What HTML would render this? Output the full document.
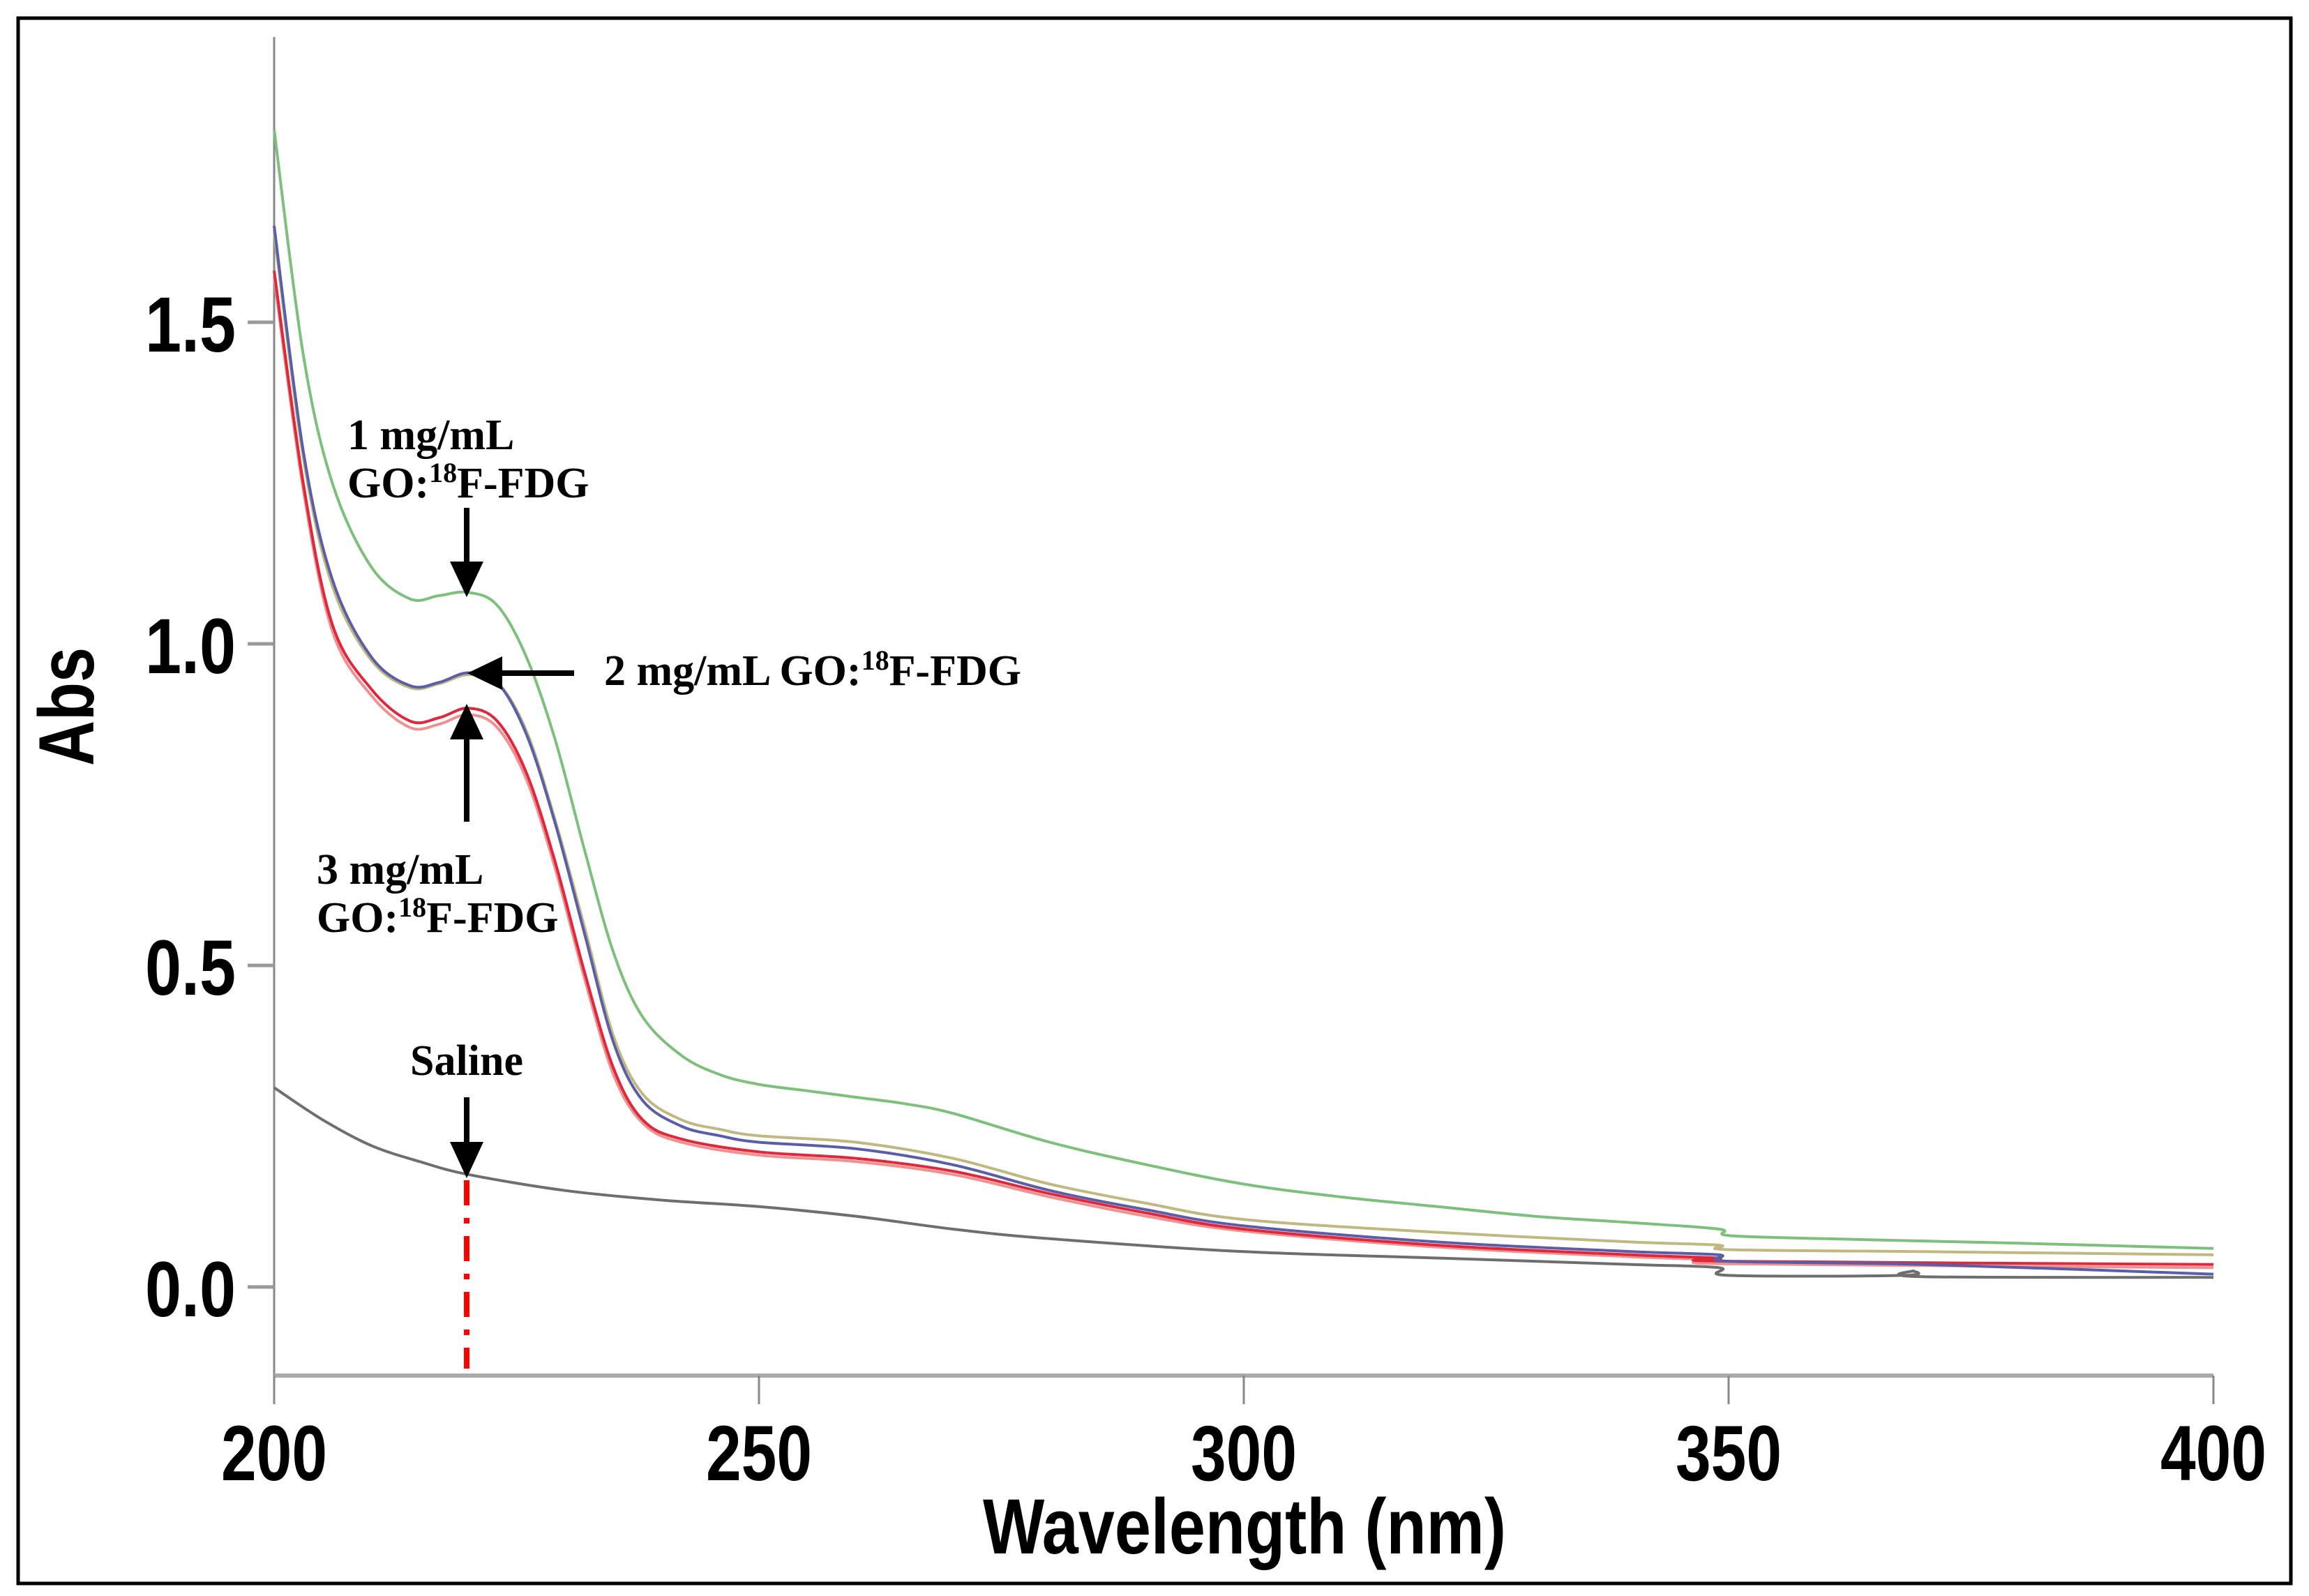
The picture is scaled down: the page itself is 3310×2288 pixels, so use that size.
<!DOCTYPE html>
<html><head><meta charset="utf-8"><style>
html,body{margin:0;padding:0;background:#fff}
svg{display:block}
.tk{font-family:"Liberation Sans",sans-serif;font-weight:bold;font-size:112px;fill:#000}
.ann{font-family:"Liberation Serif",serif;font-weight:bold;font-size:62px;fill:#000}
</style></head><body>
<svg id="chart" width="3310" height="2288" viewBox="0 0 3310 2288" xmlns="http://www.w3.org/2000/svg">
<rect x="26" y="26" width="3258" height="2244" fill="#fff" stroke="#000" stroke-width="5"/>
<g id="axes"></g>
<g id="series"></g>
<g id="annotations">
<text class="ann" x="498" y="644">1 mg/mL</text>
<text class="ann" x="498" y="713">GO:<tspan font-size="40" dy="-22">18</tspan><tspan dy="22">F-FDG</tspan></text>
<text class="ann" x="866" y="982">2 mg/mL GO:<tspan font-size="40" dy="-22">18</tspan><tspan dy="22">F-FDG</tspan></text>
<text class="ann" x="454" y="1267">3 mg/mL</text>
<text class="ann" x="454" y="1336">GO:<tspan font-size="40" dy="-22">18</tspan><tspan dy="22">F-FDG</tspan></text>
<text class="ann" x="669" y="1541" text-anchor="middle">Saline</text>
<g><line x1="669" y1="728" x2="669" y2="810" stroke="#000" stroke-width="8"/><polygon points="645,805 693,805 669,856" fill="#000"/></g>
<g><line x1="823" y1="965" x2="715" y2="965" stroke="#000" stroke-width="8"/><polygon points="720,941 720,989 670,965" fill="#000"/></g>
<g><line x1="669" y1="1178" x2="669" y2="1055" stroke="#000" stroke-width="8"/><polygon points="645,1060 693,1060 669,1009" fill="#000"/></g>
<g><line x1="669" y1="1573" x2="669" y2="1640" stroke="#000" stroke-width="8"/><polygon points="645,1637 693,1637 669,1689" fill="#000"/></g>
<line x1="669" y1="1692" x2="669" y2="1962" stroke="#f00" stroke-width="8" stroke-dasharray="36,18,8,18"/>
</g>
<text class="tk" x="1784" y="2227" text-anchor="middle" font-size="100" textLength="750" lengthAdjust="spacingAndGlyphs">Wavelength (nm)</text>
<text class="tk" transform="translate(134,1013) rotate(-90)" text-anchor="middle" font-size="100" textLength="170" lengthAdjust="spacingAndGlyphs">Abs</text>
</svg>
<script>
const xTicks=[200,250,300,350,400];
const yTicks=[0.0,0.5,1.0,1.5];
const yTickLabels=["0.0","0.5","1.0","1.5"];
const wl1=[200,203,206,210,214,217,220,223,226,229,232,235,238,242,246,250,255,260,265,270,280,290,300,310,320,330,340,349,350,360,380,400];
const abs1=[1.80,1.45,1.25,1.12,1.07,1.075,1.08,1.06,0.98,0.85,0.68,0.52,0.42,0.36,0.33,0.315,0.305,0.295,0.285,0.27,0.225,0.19,0.16,0.14,0.125,0.11,0.10,0.09,0.08,0.075,0.068,0.06];
const wl2=[200,203,206,210,214,217,220,223,226,229,232,235,238,242,246,250,260,270,280,290,300,320,340,349,350,370,400];
const abs2a=[1.65,1.30,1.10,0.98,0.935,0.94,0.955,0.94,0.86,0.72,0.55,0.38,0.29,0.25,0.235,0.225,0.215,0.19,0.15,0.12,0.095,0.07,0.055,0.05,0.04,0.035,0.02];
const abs2b=[1.64,1.29,1.09,0.975,0.932,0.938,0.952,0.94,0.865,0.725,0.56,0.39,0.30,0.26,0.245,0.235,0.225,0.20,0.16,0.13,0.105,0.085,0.07,0.065,0.058,0.055,0.05];
const wl3=[200,203,206,210,214,217,220,223,226,229,232,235,238,242,250,260,270,280,290,300,320,340,349,350,400];
const abs3a=[1.58,1.25,1.03,0.93,0.88,0.885,0.90,0.88,0.80,0.66,0.49,0.34,0.26,0.23,0.21,0.20,0.18,0.145,0.115,0.09,0.065,0.05,0.045,0.04,0.035];
const abs3b=[1.57,1.24,1.02,0.92,0.87,0.875,0.89,0.87,0.79,0.65,0.48,0.33,0.255,0.225,0.205,0.195,0.175,0.14,0.11,0.087,0.062,0.047,0.042,0.036,0.03];
const wlS=[200,205,210,215,220,230,240,250,260,270,280,300,320,340,349,350,368,369,370,400];
const absS=[0.31,0.26,0.22,0.195,0.175,0.15,0.135,0.125,0.11,0.09,0.075,0.055,0.045,0.035,0.03,0.018,0.018,0.025,0.016,0.015];

const NS="http://www.w3.org/2000/svg";
const X0=393,X1=3173,Y0=1845,YPER=922;
function xs(w){return X0+(w-200)/200*(X1-X0);}
function ys(a){return Y0-a*YPER;}
const axes=document.getElementById('axes');
function mk(tag,attrs,parent){const e=document.createElementNS(NS,tag);for(const k in attrs)e.setAttribute(k,attrs[k]);parent.appendChild(e);return e;}
let yl=mk('line',{x1:X0,y1:53,x2:X0,y2:1972,stroke:'#888','stroke-width':3},axes);


let xl=mk('line',{x1:X0,y1:1972,x2:X1,y2:1972,stroke:'#aaa','stroke-width':6},axes);


xTicks.forEach(function(t){
  const px=xs(t);
  const l=mk('line',{x1:px,y1:1972,x2:px,y2:2013,stroke:'#888','stroke-width':3},axes);
  
  
  const tx=mk('text',{x:px,y:2122,'text-anchor':'middle','class':'tk',textLength:152,lengthAdjust:'spacingAndGlyphs'},axes);
  tx.textContent=String(t);
  
  
});
yTicks.forEach(function(t,i){
  const py=ys(t);
  const l=mk('line',{x1:X0-38,y1:py,x2:X0,y2:py,stroke:'#999','stroke-width':5},axes);
  
  
  const tx=mk('text',{x:338,y:py+42,'text-anchor':'end','class':'tk',textLength:130,lengthAdjust:'spacingAndGlyphs'},axes);
  tx.textContent=yTickLabels[i];
  
  
});
const sg=document.getElementById('series');
function draw(w,a,color,name){
  const P=w.map(function(v,i){return [xs(v),ys(a[i])];});
  let d='M'+P[0][0].toFixed(1)+','+P[0][1].toFixed(1);
  for(let i=0;i<P.length-1;i++){
    const p0=P[Math.max(0,i-1)],p1=P[i],p2=P[i+1],p3=P[Math.min(P.length-1,i+2)];
    const k=1/6;
    const c1x=p1[0]+(p2[0]-p0[0])*k,c1y=p1[1]+(p2[1]-p0[1])*k;
    const c2x=p2[0]-(p3[0]-p1[0])*k,c2y=p2[1]-(p3[1]-p1[1])*k;
    d+='C'+c1x.toFixed(1)+','+c1y.toFixed(1)+' '+c2x.toFixed(1)+','+c2y.toFixed(1)+' '+p2[0].toFixed(1)+','+p2[1].toFixed(1);
  }
  const p=mk('path',{d:d,fill:'none',stroke:color,'stroke-width':4,'stroke-linejoin':'round'},sg);
  
  
}
draw(wlS,absS,'#6e6e6e','series-saline');
draw(wl2,abs2b,'#c0b880','series-2mg-b');
draw(wl3,abs3b,'#f09090','series-3mg-b');
draw(wl3,abs3a,'#e0283c','series-3mg-a');
draw(wl2,abs2a,'#5a5ea8','series-2mg-a');
draw(wl1,abs1,'#7cc07c','series-1mg');
</script>
</body></html>
